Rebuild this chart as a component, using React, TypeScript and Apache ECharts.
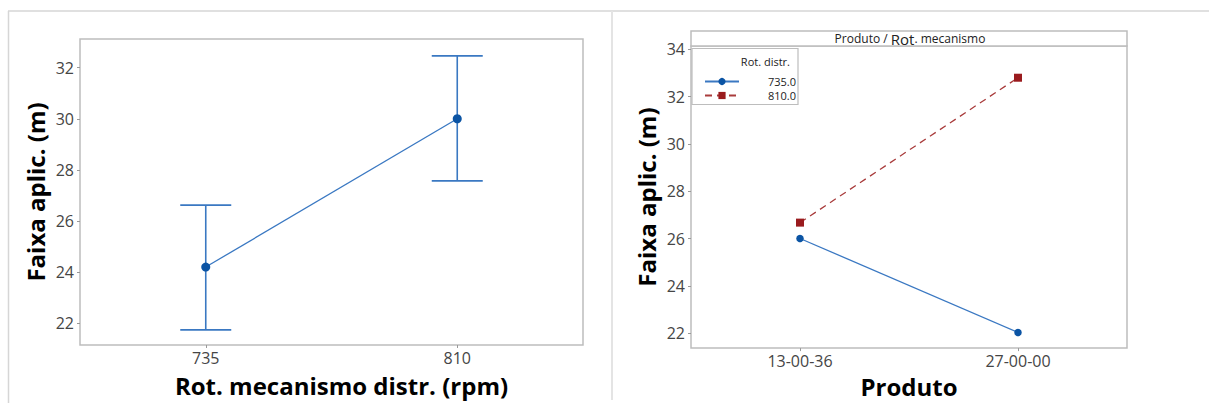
import React, { useEffect, useRef } from "react";
import * as echarts from "echarts";

// ---- Data ----
const rotCategories = ["735", "810"];
const rotMeans = [24.2, 30.0];
const rotCiLow = [21.74, 27.57];
const rotCiHigh = [26.62, 32.46];
const leftYTicks = [22, 24, 26, 28, 30, 32];

const produtoCategories = ["13-00-36", "27-00-00"];
const rot735Values = [26.01, 22.04];
const rot810Values = [26.68, 32.8];
const rightYTicks = [22, 24, 26, 28, 30, 32, 34];
const legendNames = ["735.0", "810.0"];

const TICK_FONT = "'Open Sans', 'Noto Sans', sans-serif";
const TITLE_FONT = "'Open Sans', 'Noto Sans', sans-serif";
const BORDER = "#bdbdbd";
const LABEL_COLOR = "#454545";
const BLUE_LINE = "#3a78c2";
const BLUE_MARK = "#0b54a4";
const RED_LINE = "#a93c3c";
const RED_MARK = "#9a1b1e";

export default function App() {
  const ref = useRef<HTMLDivElement>(null);

  useEffect(() => {
    if (!ref.current) return;
    const chart = echarts.init(ref.current, undefined, { renderer: "svg" });

    const errData = rotCategories.map((_, i) => [i, rotCiLow[i], rotCiHigh[i]]);

    const yAxisBase = (ticks: number[]) => ({
      type: "value" as const,
      axisLine: { show: false },
      splitLine: { show: false },
      axisTick: {
        show: true,
        length: 3,
        inside: false,
        customValues: ticks,
        lineStyle: { color: "#999" },
      },
      axisLabel: {
        customValues: ticks,
        color: LABEL_COLOR,
        fontFamily: TICK_FONT,
        fontSize: 16,
        margin: 6,
      },
      nameLocation: "middle" as const,
      nameTextStyle: {
        fontFamily: TITLE_FONT,
        fontWeight: "bold" as const,
        fontSize: 24,
        color: "#000",
      },
    });

    const xAxisBase = (cats: string[]) => ({
      type: "category" as const,
      data: cats,
      boundaryGap: true,
      axisLine: { show: false },
      axisTick: { show: true, alignWithLabel: true, length: 3, lineStyle: { color: "#999" } },
      axisLabel: { color: LABEL_COLOR, fontFamily: TICK_FONT, fontSize: 16, margin: 5 },
      splitLine: { show: false },
      nameLocation: "middle" as const,
      nameTextStyle: {
        fontFamily: TITLE_FONT,
        fontWeight: "bold" as const,
        fontSize: 24,
        color: "#000",
      },
    });

    chart.setOption({
      animation: false,
      backgroundColor: "#fff",
      grid: [
        { left: 80, top: 39, width: 503, height: 306, show: true, borderColor: BORDER, borderWidth: 1.5, backgroundColor: "#fff" },
        { left: 691, top: 46, width: 436, height: 307, show: true, borderColor: BORDER, borderWidth: 1.5, backgroundColor: "#fff" },
      ],
      xAxis: [
        { ...xAxisBase(rotCategories), gridIndex: 0, name: "Rot. mecanismo distr. (rpm)", nameGap: 28,
          nameTextStyle: { ...xAxisBase(rotCategories).nameTextStyle, padding: [0, 0, 0, 20] } },
        { ...xAxisBase(produtoCategories), gridIndex: 1, name: "Produto", nameGap: 24 },
      ],
      yAxis: [
        { ...yAxisBase(leftYTicks), gridIndex: 0, min: 21.15, max: 33.12, name: "Faixa aplic. (m)", nameGap: 33 },
        { ...yAxisBase(rightYTicks), gridIndex: 1, min: 21.38, max: 34.14, name: "Faixa aplic. (m)", nameGap: 33 },
      ],
      legend: {
        show: true,
        data: legendNames,
        orient: "vertical",
        left: 699,
        top: 71,
        itemWidth: 34,
        itemHeight: 9,
        itemGap: 3,
        selectedMode: false,
        formatter: "{a|{name}}",
        textStyle: {
          fontFamily: TICK_FONT,
          fontSize: 11,
          color: "#222",
          rich: { a: { width: 52, align: "right", fontFamily: TICK_FONT, fontSize: 11, color: "#222" } },
        },
      },
      graphic: [
        // outer frame lines
        { type: "line", shape: { x1: 8, y1: 11, x2: 1209, y2: 11 }, style: { stroke: "#d6d6d6", lineWidth: 1.5 } },
        { type: "line", shape: { x1: 8.5, y1: 11, x2: 8.5, y2: 403 }, style: { stroke: "#d6d6d6", lineWidth: 1.5 } },
        { type: "line", shape: { x1: 612, y1: 11, x2: 612, y2: 400 }, style: { stroke: "#e4e4e4", lineWidth: 2 } },
        // header strip
        { type: "rect", shape: { x: 691, y: 31, width: 436, height: 15 }, style: { fill: "#fff", stroke: BORDER, lineWidth: 1.5 } },
        {
          type: "text",
          x: 910,
          y: 38.5,
          style: {
            text: "{a|Produto / }{b|Rot}{a|. mecanismo}",
            align: "center",
            verticalAlign: "middle",
            rich: {
              a: { fontFamily: TICK_FONT, fontSize: 12, fill: "#222" },
              b: { fontFamily: TICK_FONT, fontSize: 15, fill: "#222" },
            },
          },
        },
        // legend box
        { type: "rect", z: 1, shape: { x: 692, y: 48.5, width: 106, height: 56 }, style: { fill: "#fff", stroke: BORDER, lineWidth: 1.2 } },
        {
          type: "text",
          z: 2,
          x: 790,
          y: 61.5,
          style: { text: "Rot. distr.", align: "right", verticalAlign: "middle", fontFamily: TICK_FONT, fontSize: 11, fill: "#222" },
        },
      ],
      series: [
        {
          name: "errorbar",
          type: "custom",
          xAxisIndex: 0,
          yAxisIndex: 0,
          data: errData,
          encode: { x: 0, y: [1, 2] },
          z: 2,
          renderItem: (params: any, api: any) => {
            const x = api.value(0);
            const lo = api.coord([x, api.value(1)]);
            const hi = api.coord([x, api.value(2)]);
            const hw = 25.5;
            const st = { stroke: BLUE_LINE, lineWidth: 1.6 };
            return {
              type: "group",
              children: [
                { type: "line", shape: { x1: lo[0], y1: lo[1], x2: hi[0], y2: hi[1] }, style: st },
                { type: "line", shape: { x1: lo[0] - hw, y1: lo[1], x2: lo[0] + hw, y2: lo[1] }, style: st },
                { type: "line", shape: { x1: hi[0] - hw, y1: hi[1], x2: hi[0] + hw, y2: hi[1] }, style: st },
              ],
            };
          },
        },
        {
          name: "Média",
          type: "line",
          xAxisIndex: 0,
          yAxisIndex: 0,
          data: rotMeans,
          z: 3,
          symbol: "circle",
          symbolSize: 9,
          lineStyle: { color: BLUE_LINE, width: 1.3 },
          itemStyle: { color: BLUE_MARK },
        },
        {
          name: legendNames[0],
          type: "line",
          xAxisIndex: 1,
          yAxisIndex: 1,
          data: rot735Values,
          z: 3,
          symbol: "circle",
          symbolSize: 7.5,
          lineStyle: { color: BLUE_LINE, width: 1.3, type: "solid" },
          itemStyle: { color: BLUE_MARK },
        },
        {
          name: legendNames[1],
          type: "line",
          xAxisIndex: 1,
          yAxisIndex: 1,
          data: rot810Values,
          z: 3,
          symbol: "rect",
          symbolSize: 8,
          lineStyle: { color: RED_LINE, width: 1.3, type: [7, 5] },
          itemStyle: { color: RED_MARK },
        },
      ],
    });

    return () => chart.dispose();
  }, []);

  return (
    <div
      ref={ref}
      style={{ position: "fixed", left: 0, top: 0, width: 1209, height: 403, background: "#fff" }}
    />
  );
}
